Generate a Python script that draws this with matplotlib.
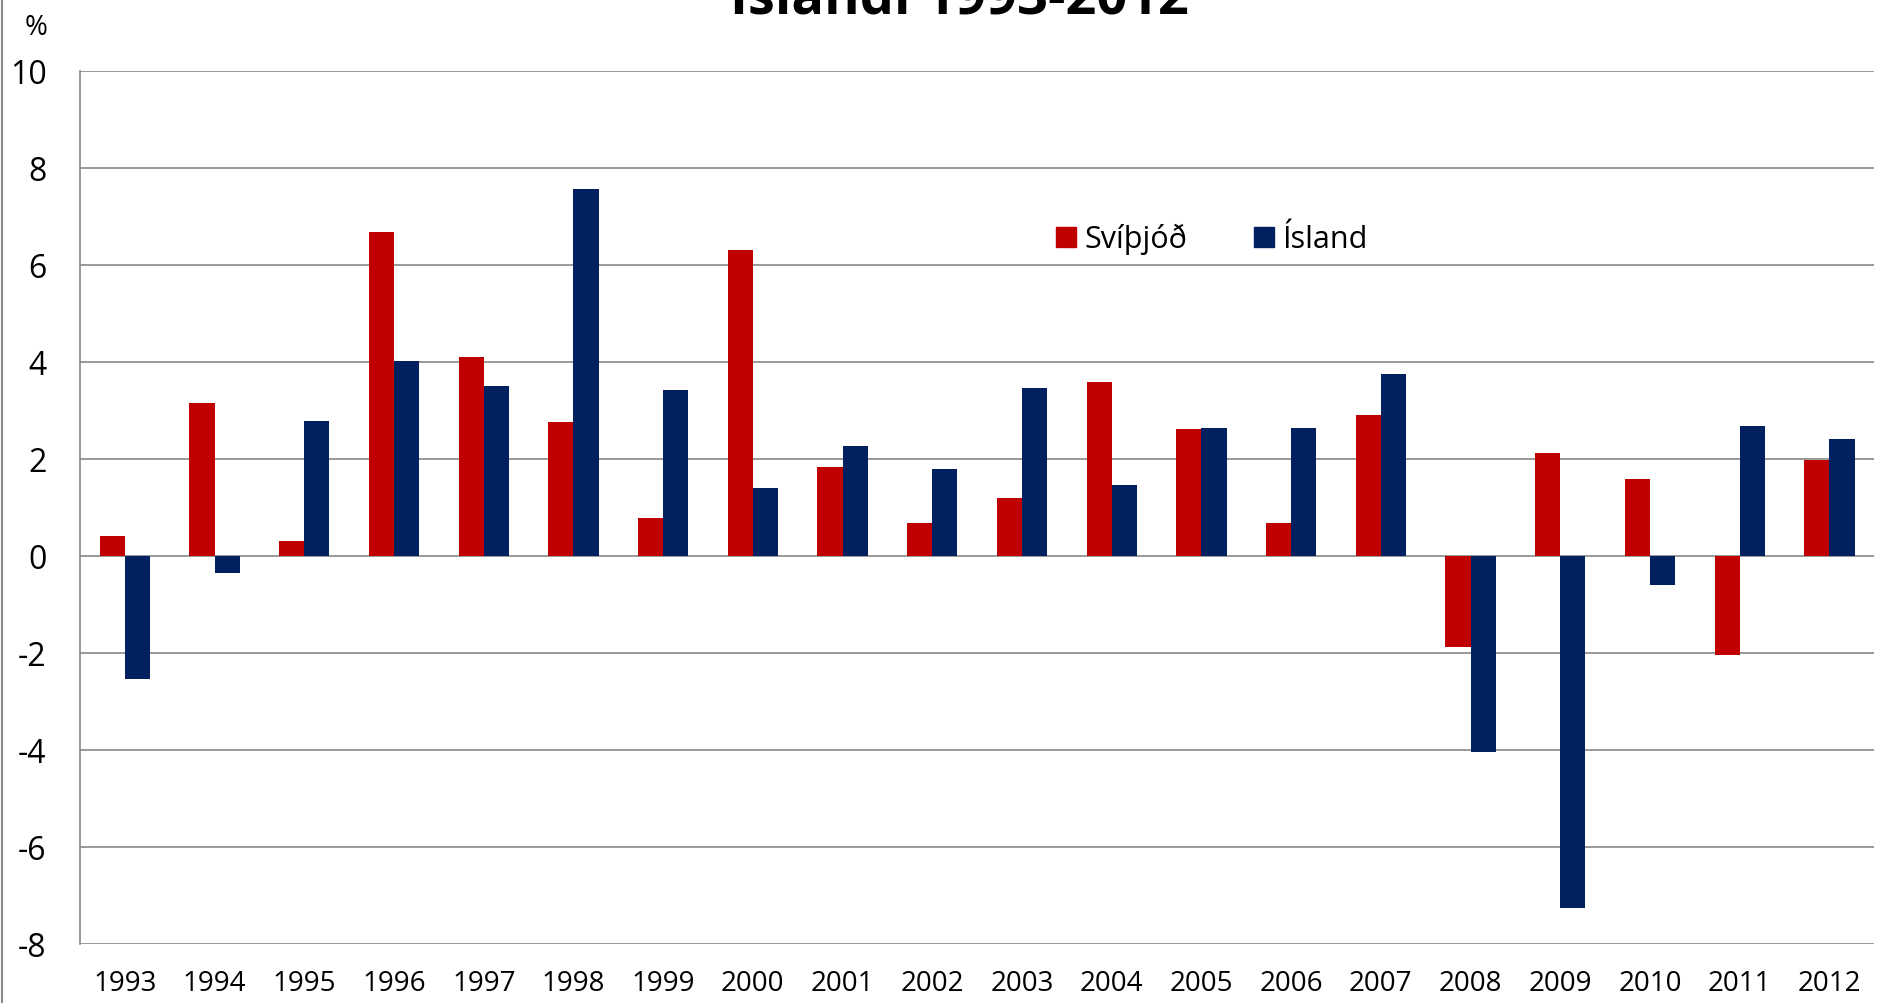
import matplotlib
matplotlib.use("Agg")
import matplotlib.pyplot as plt
import numpy as np
from matplotlib.lines import Line2D

years = [str(y) for y in range(1993, 2013)]
svithjod = [0.42, 3.16, 0.30, 6.67, 4.10, 2.77, 0.79, 6.30, 1.83, 0.69,
            1.19, 3.58, 2.62, 0.69, 2.91, -1.88, 2.12, 1.58, -2.05, 1.98]
island = [-2.54, -0.35, 2.79, 4.02, 3.50, 7.56, 3.43, 1.41, 2.27, 1.80,
          3.46, 1.46, 2.64, 2.64, 3.75, -4.05, -7.26, -0.59, 2.67, 2.42]
yticks = [-8, -6, -4, -2, 0, 2, 4, 6, 8, 10]

RED = "#c00000"
BLUE = "#002060"
FONT = ["Open Sans", "DejaVu Sans"]
plt.rcParams['font.family'] = FONT

fig = plt.figure(figsize=(18.78, 10.04), dpi=100)
ax = fig.add_axes([0.0426, 0.0588, 0.9554, 0.8695])

x = np.arange(len(years))
w = 0.28
ax.bar(x - w / 2, svithjod, width=w, color=RED, zorder=3)
ax.bar(x + w / 2, island, width=w, color=BLUE, zorder=3)

ax.set_xlim(-0.5, len(years) - 0.5)
ax.set_ylim(-8, 10)
ax.set_yticks(yticks)
ax.set_yticklabels([str(t) for t in yticks], fontsize=23)
ax.set_xticks(x)
ax.set_xticklabels(years, fontsize=20)
ax.tick_params(axis='both', length=0)
ax.tick_params(axis='y', pad=24)
ax.tick_params(axis='x', pad=18)
ax.grid(axis='y', color='#888888', linewidth=1.2, zorder=0)
for s in ['top', 'right', 'bottom']:
    ax.spines[s].set_visible(False)
ax.spines['left'].set_color('#888888')
ax.spines['left'].set_linewidth(1.2)

handles = [Line2D([], [], marker='s', linestyle='none', markersize=15, color=RED),
           Line2D([], [], marker='s', linestyle='none', markersize=15, color=BLUE)]
ax.legend(handles, ['Svíþjóð', 'Ísland'], loc='center', bbox_to_anchor=(0.6295, 0.808),
          ncol=2, frameon=False, fontsize=22, handletextpad=0.1, columnspacing=2.0,
          handlelength=1.0)

fig.text(0.511, 1 - 14 / 1004, 'Íslandi 1993-2012', ha='center', va='baseline',
         fontsize=39, fontweight='bold')
fig.text(0.019, 0.972, '%', ha='center', va='center', fontsize=20)
fig.add_artist(Line2D([0.001, 0.001], [0, 1], color='#888888', linewidth=1.5,
                      transform=fig.transFigure))

fig.savefig('out.png', dpi=100)
